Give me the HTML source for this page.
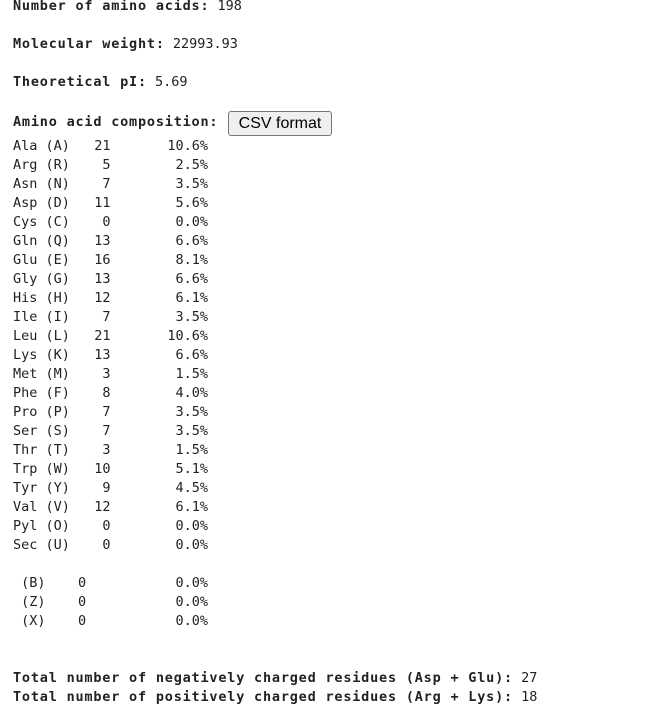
<!DOCTYPE html>
<html><head><meta charset="utf-8"><style>
body{margin:0;width:669px;height:715px;background:#fff;position:relative;overflow:hidden;color:#222}
.l{position:absolute;left:13px;height:19px;line-height:19px;font-family:"DejaVu Sans Mono","Liberation Mono",monospace;font-size:13.5px;white-space:pre}
b{letter-spacing:0.8px}
button{position:absolute;left:228px;top:111px;width:104px;height:25px;font-family:"Liberation Sans",sans-serif;font-size:16px;background:#efefef;border:1px solid #767676;border-radius:3px;padding:0;color:#000}
</style></head><body>
<div class="l" style="top:-3px"><b>Number of amino acids:</b> 198</div>
<div class="l" style="top:35px"><b>Molecular weight:</b> 22993.93</div>
<div class="l" style="top:73px"><b>Theoretical pI:</b> 5.69</div>
<div class="l" style="top:113px"><b>Amino acid composition:</b></div>
<button>CSV format</button>
<div id="rows"></div>
<div class="l" style="top:669px"><b>Total number of negatively charged residues (Asp + Glu):</b> 27</div>
<div class="l" style="top:688px"><b>Total number of positively charged residues (Arg + Lys):</b> 18</div>
<script>
const names=["Ala (A)","Arg (R)","Asn (N)","Asp (D)","Cys (C)","Gln (Q)","Glu (E)","Gly (G)","His (H)","Ile (I)","Leu (L)","Lys (K)","Met (M)","Phe (F)","Pro (P)","Ser (S)","Thr (T)","Trp (W)","Tyr (Y)","Val (V)","Pyl (O)","Sec (U)"];
const counts=[21,5,7,11,0,13,16,13,12,7,21,13,3,8,7,7,3,10,9,12,0,0];
const pcts=["10.6%","2.5%","3.5%","5.6%","0.0%","6.6%","8.1%","6.6%","6.1%","3.5%","10.6%","6.6%","1.5%","4.0%","3.5%","3.5%","1.5%","5.1%","4.5%","6.1%","0.0%","0.0%"];
const extraNames=["(B)","(Z)","(X)"];
const extraCounts=[0,0,0];
const extraPcts=["0.0%","0.0%","0.0%"];
const rows=document.getElementById('rows');
function add(text,top,name){
  const d=document.createElement('div');
  d.className='l';d.style.top=top+'px';d.textContent=text;
  
  
  rows.appendChild(d);
}
names.forEach((n,i)=>{
  add(n+String(counts[i]).padStart(5)+pcts[i].padStart(12),136.5+i*19,'composition-row');
});
extraNames.forEach((n,i)=>{
  add(' '+n+String(extraCounts[i]).padStart(5)+extraPcts[i].padStart(15),573.5+i*19,'ambiguous-row');
});
</script>
</body></html>
